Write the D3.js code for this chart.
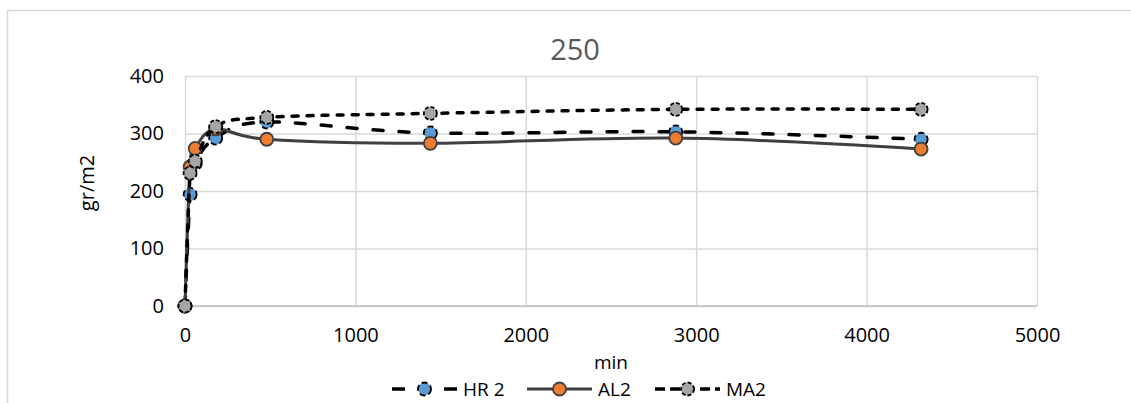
<!DOCTYPE html>
<html>
<head>
<meta charset="utf-8">
<script src="https://cdn.jsdelivr.net/npm/d3@7"></script>
<style>
  body { margin: 0; background: #fff; }
  text { font-family: 'Open Sans', sans-serif; fill: #000; }
</style>
</head>
<body>
<div id="chart"></div>
<script>
// data (minutes vs gr/m2)
var minutes = [0, 30, 60, 180, 480, 1440, 2880, 4320];
var hr2 = [0, 194, 248, 292, 320, 301, 303, 290];
var al2 = [0, 242, 274, 308, 290, 283, 292, 273];
var ma2 = [0, 231, 252, 312, 328, 335, 342, 342];
var xTicks = [0, 1000, 2000, 3000, 4000, 5000];
var yTicks = [0, 100, 200, 300, 400];
var seriesNames = ['HR 2', 'AL2', 'MA2'];

var margin = {top: 76, right: 94, bottom: 97, left: 185},
    width = 1131 - margin.left - margin.right,
    height = 403 - margin.top - margin.bottom;

var svg = d3.select('#chart').append('svg')
    .attr('width', 1131)
    .attr('height', 403);

// chart area border
svg.append('rect')
    .attr('x', 7.5).attr('y', 10.5)
    .attr('width', 1140).attr('height', 420)
    .style('fill', 'none')
    .style('stroke', '#d9d9d9')
    .style('stroke-width', 1.5);

var wrapper = svg.append('g')
    .attr('transform', 'translate(' + margin.left + ',' + margin.top + ')');

var xScale = d3.scaleLinear().domain([0, 5000]).range([0, width]),
    yScale = d3.scaleLinear().domain([0, 400]).range([height, 0]);

var styles = [
  {line: '#000', width: 3.5, dash: '10,16', cap: 'round', fill: '#5b9bd5', mstroke: '#000', mdash: '6,3'},
  {line: '#404040', width: 3, dash: null, cap: 'butt', fill: '#ed7d31', mstroke: '#404040', mdash: null},
  {line: '#000', width: 3.5, dash: '6,9', cap: 'round', fill: '#a5a5a5', mstroke: '#000', mdash: '4,2'}
];

// gridlines
wrapper.append('g')
    .call(d3.axisLeft(yScale).tickValues(yTicks).tickSize(-width).tickFormat(''))
    .call(function(g) { g.select('.domain').remove(); })
    .selectAll('line').style('stroke', '#d9d9d9').style('stroke-width', 1.5);

wrapper.append('g')
    .attr('transform', 'translate(0,' + height + ')')
    .call(d3.axisBottom(xScale).tickValues(xTicks).tickSize(-height).tickFormat(''))
    .call(function(g) { g.select('.domain').remove(); })
    .selectAll('line').style('stroke', '#d9d9d9').style('stroke-width', 1.5);

// bottom axis line
wrapper.append('line')
    .attr('x1', 0).attr('x2', width)
    .attr('y1', height).attr('y2', height)
    .style('stroke', '#bfbfbf').style('stroke-width', 1.5);

// tick labels
var xAxis = wrapper.append('g')
    .attr('transform', 'translate(0,' + height + ')')
    .call(d3.axisBottom(xScale).tickValues(xTicks).tickSize(0).tickPadding(0).tickFormat(d3.format('d')));
xAxis.select('.domain').remove();
xAxis.selectAll('text')
    .attr('y', 36).attr('dy', 0)
    .style('font-size', '20px').style('font-family', 'Open Sans');

var yAxis = wrapper.append('g')
    .call(d3.axisLeft(yScale).tickValues(yTicks).tickSize(0).tickPadding(21).tickFormat(d3.format('d')));
yAxis.select('.domain').remove();
yAxis.selectAll('text')
    .style('font-size', '20px').style('font-family', 'Open Sans');

// title and axis titles
svg.append('text')
    .attr('x', 575).attr('y', 60)
    .style('text-anchor', 'middle')
    .style('font-size', '29px')
    .style('fill', '#595959')
    .text('250');

svg.append('text')
    .attr('x', margin.left + width / 2).attr('y', 369)
    .style('text-anchor', 'middle')
    .style('font-size', '19px')
    .text('min');

svg.append('text')
    .attr('transform', 'translate(94,183) rotate(-90)')
    .style('text-anchor', 'middle')
    .style('font-size', '20px')
    .text('gr/m2');

// series
var allSeries = [hr2, al2, ma2].map(function(vals, i) {
  return {name: seriesNames[i], style: styles[i], points: minutes.map(function(m, j) { return {x: m, y: vals[j]}; })};
});

var line = d3.line()
    .x(function(d) { return xScale(d.x); })
    .y(function(d) { return yScale(d.y); })
    .curve(d3.curveCatmullRom.alpha(0));

allSeries.forEach(function(s) {
  var g = wrapper.append('g');
  g.append('path')
      .attr('d', line(s.points))
      .style('fill', 'none')
      .style('stroke', s.style.line)
      .style('stroke-width', s.style.width)
      .style('stroke-linecap', s.style.cap)
      .style('stroke-dasharray', s.style.dash);
  g.selectAll('circle')
      .data(s.points)
    .enter().append('circle')
      .attr('cx', function(d) { return xScale(d.x); })
      .attr('cy', function(d) { return yScale(d.y); })
      .attr('r', 6.5)
      .style('fill', s.style.fill)
      .style('stroke', s.style.mstroke)
      .style('stroke-width', 1.8)
      .style('stroke-dasharray', s.style.mdash);
});

// legend
var legendX = [392, 527, 655];
var legend = svg.selectAll('.legend')
    .data(allSeries)
  .enter().append('g')
    .attr('class', 'legend')
    .attr('transform', function(d, i) { return 'translate(' + legendX[i] + ',389)'; });

legend.append('line')
    .attr('x1', 0).attr('x2', 65)
    .style('stroke', function(d) { return d.style.line; })
    .style('stroke-width', function(d) { return d.style.width; })
    .style('stroke-linecap', 'butt')
    .style('stroke-dasharray', function(d, i) { return i === 0 ? '13,13' : (i === 2 ? '10,5' : null); });

legend.append('circle')
    .attr('cx', 32.5)
    .attr('r', 6.5)
    .style('fill', function(d) { return d.style.fill; })
    .style('stroke', function(d) { return d.style.mstroke; })
    .style('stroke-width', 1.8)
    .style('stroke-dasharray', function(d) { return d.style.mdash; });

legend.append('text')
    .attr('x', 71)
    .attr('y', 7)
    .style('font-size', '19px')
    .text(function(d) { return d.name; });
</script>
</body>
</html>
